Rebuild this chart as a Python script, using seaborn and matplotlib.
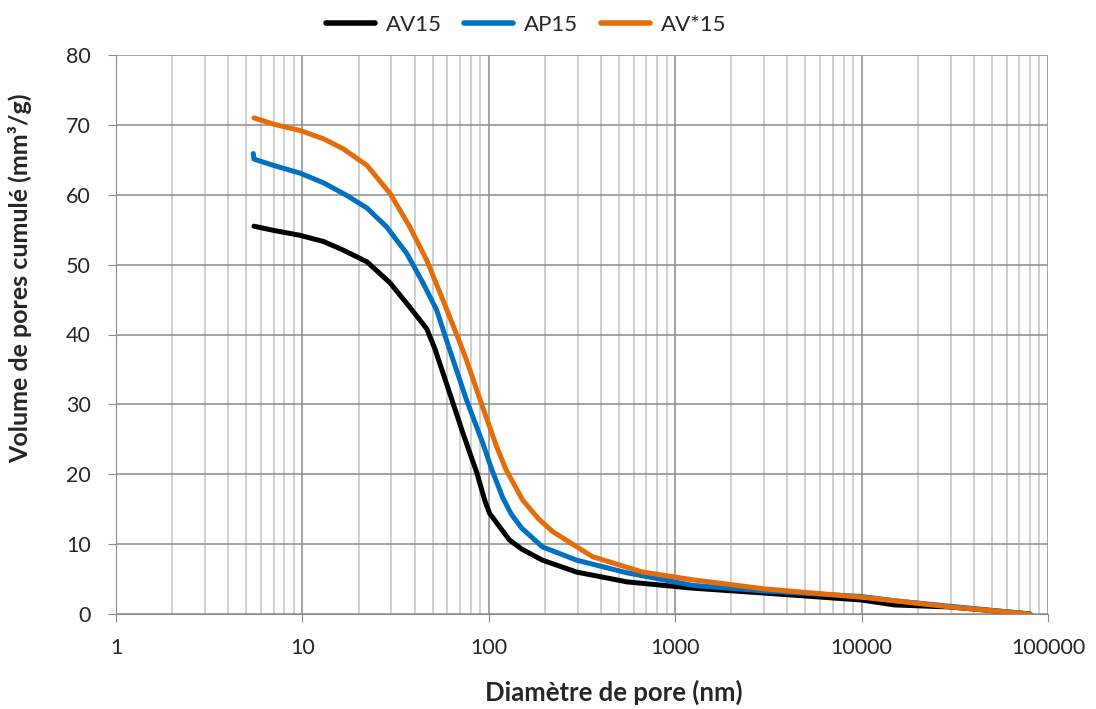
import matplotlib
matplotlib.use("Agg")
import matplotlib.pyplot as plt
import matplotlib.ticker as mticker
import seaborn as sns
import pandas as pd

sns.set_style("white")
plt.rcParams["font.family"] = ["Lato", "DejaVu Sans"]

# pore diameter (nm) vs cumulative pore volume (mm3/g)
av15_d = [5.5, 7, 9.7, 13, 16.5, 22.2, 29.5, 37.7, 46.5, 51.3, 61.7, 72.6, 86.3, 95, 101,
          129, 150, 194, 296, 550, 1240, 3000, 10000, 15000, 30000, 80000]
av15_v = [55.5, 54.9, 54.2, 53.3, 52.1, 50.4, 47.4, 43.9, 40.8, 38.0, 31.6, 25.9, 20.2, 16.3, 14.4,
          10.6, 9.3, 7.7, 6.0, 4.6, 3.7, 3.0, 2.0, 1.3, 1.0, 0.0]

ap15_d = [5.45, 5.5, 7, 9.7, 13, 17.3, 22.2, 28.3, 36.3, 44.3, 52.5, 61.7, 76, 92.7, 104,
          119, 132, 150, 194, 296, 550, 1240, 3000, 10000, 15000, 30000, 80000]
ap15_v = [65.9, 65.1, 64.2, 63.1, 61.7, 59.9, 58.1, 55.4, 51.6, 47.4, 43.5, 37.8, 30.6, 24.5, 20.6,
          16.6, 14.3, 12.3, 9.6, 7.7, 5.9, 4.1, 3.3, 2.5, 1.9, 1.1, 0.0]

avs15_d = [5.5, 7, 9.7, 13, 16.5, 22.2, 29.5, 37.7, 46.5, 56.8, 69.8, 76, 92.7, 110, 124,
           152, 185, 220, 360, 670, 1240, 3000, 10000, 15000, 30000, 80000]
avs15_v = [71.0, 70.1, 69.2, 68.0, 66.6, 64.2, 60.2, 55.4, 50.6, 44.9, 38.9, 36.3, 29.6, 24.0, 20.6,
           16.3, 13.6, 11.8, 8.2, 6.0, 4.9, 3.6, 2.4, 1.9, 1.0, 0.0]

series = ["AV15", "AP15", "AV*15"]
colors = ["#000000", "#0070C0", "#E46C0A"]

df = pd.concat([
    pd.DataFrame({"d": av15_d, "v": av15_v, "s": "AV15"}),
    pd.DataFrame({"d": ap15_d, "v": ap15_v, "s": "AP15"}),
    pd.DataFrame({"d": avs15_d, "v": avs15_v, "s": "AV*15"}),
])

fig = plt.figure(figsize=(10.96, 7.09), dpi=100)
ax = fig.add_axes([116 / 1096, 1 - 614 / 709, (1048 - 116) / 1096, (614 - 55) / 709])

sns.lineplot(data=df, x="d", y="v", hue="s", hue_order=series, palette=colors,
             sort=False, estimator=None, linewidth=3.6, ax=ax)
for ln in ax.lines:
    ln.set_solid_capstyle("round")
    ln.set_solid_joinstyle("round")

ax.set_xscale("log")
ax.set_xlim(1, 100000)
ax.set_ylim(0, 80)
ax.set_yticks(range(0, 81, 10))
ax.xaxis.set_major_locator(mticker.LogLocator(base=10, numticks=10))
ax.xaxis.set_minor_locator(mticker.LogLocator(base=10, subs=range(2, 10), numticks=20))
ax.xaxis.set_major_formatter(mticker.FuncFormatter(lambda v, p: f"{v:.0f}"))
ax.xaxis.set_minor_formatter(mticker.NullFormatter())

ax.grid(True, which="major", color="#8c8c8c", linewidth=1.1)
ax.grid(True, which="minor", axis="x", color="#c4c4c4", linewidth=1.1)
ax.set_axisbelow(True)

for sp in ["top", "right"]:
    ax.spines[sp].set_visible(False)
ax.spines["bottom"].set_color("#8c8c8c")
ax.spines["left"].set_color("#8c8c8c")
ax.tick_params(axis="both", which="major", length=6, color="#8c8c8c",
               labelsize=15.5, bottom=True, left=True, direction="out")
ax.tick_params(axis="x", which="major", pad=11)
ax.tick_params(axis="y", which="major", pad=12)
ax.tick_params(axis="x", which="minor", length=0)

ax.set_xlabel("Diamètre de pore (nm)", fontsize=18.5, fontweight="bold")
ax.set_ylabel("Volume de pores cumulé (mm³/g)", fontsize=18, fontweight="bold")
ax.xaxis.set_label_coords(0.534, -0.118)
ax.yaxis.set_label_coords(-0.09, 0.6)

handles, labels = ax.get_legend_handles_labels()
leg = ax.legend(handles, labels, loc="lower center", bbox_to_anchor=(0.44, 1.0), ncol=3,
                frameon=False, fontsize=16, handlelength=2.2, columnspacing=1.0,
                handletextpad=0.5, borderaxespad=0.5)
for h in leg.get_lines():
    h.set_linewidth(4)

plt.savefig("out.png", dpi=100)
plt.close()
